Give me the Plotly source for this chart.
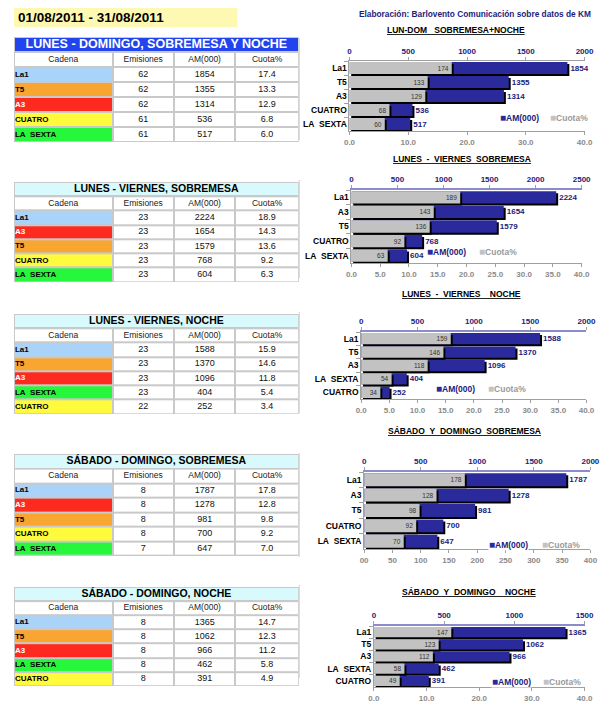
import plotly.graph_objects as go

# The page body adds an 8px margin; the figure is sized to the visible area and
# reference pixel positions are shifted by that margin.
PAGE_MARGIN = 8
W, H = 615 - PAGE_MARGIN, 710 - PAGE_MARGIN
FONT = "Liberation Sans, Arial, Helvetica, sans-serif"

# ---------------- data ----------------
date_range = "01/08/2011 - 31/08/2011"
source_text = "Elaboración: Barlovento Comunicación sobre datos de KM"
header_labels = ["Cadena", "Emisiones", "AM(000)", "Cuota%"]
legend_labels = ["AM(000)", "Cuota%"]

table_titles = ["LUNES - DOMINGO, SOBREMESA Y NOCHE", "LUNES - VIERNES, SOBREMESA",
                "LUNES - VIERNES, NOCHE", "SÁBADO - DOMINGO, SOBREMESA", "SÁBADO - DOMINGO, NOCHE"]
chart_titles = ["LUN-DOM   SOBREMESA+NOCHE", "LUNES  -  VIERNES  SOBREMESA", "LUNES  -  VIERNES    NOCHE",
                "SÁBADO  Y  DOMINGO  SOBREMESA", "SÁBADO  Y  DOMINGO    NOCHE"]

cadenas_1 = ["La1", "T5", "A3", "CUATRO", "LA  SEXTA"]
emisiones_1 = [62, 62, 62, 61, 61]
am_1 = [1854, 1355, 1314, 536, 517]
cuota_1 = [17.4, 13.3, 12.9, 6.8, 6.0]

cadenas_2 = ["La1", "A3", "T5", "CUATRO", "LA  SEXTA"]
emisiones_2 = [23, 23, 23, 23, 23]
am_2 = [2224, 1654, 1579, 768, 604]
cuota_2 = [18.9, 14.3, 13.6, 9.2, 6.3]

cadenas_3 = ["La1", "T5", "A3", "LA  SEXTA", "CUATRO"]
emisiones_3 = [23, 23, 23, 23, 22]
am_3 = [1588, 1370, 1096, 404, 252]
cuota_3 = [15.9, 14.6, 11.8, 5.4, 3.4]

cadenas_4 = ["La1", "A3", "T5", "CUATRO", "LA  SEXTA"]
emisiones_4 = [8, 8, 8, 8, 7]
am_4 = [1787, 1278, 981, 700, 647]
cuota_4 = [17.8, 12.8, 9.8, 9.2, 7.0]

cadenas_5 = ["La1", "T5", "A3", "LA  SEXTA", "CUATRO"]
emisiones_5 = [8, 8, 8, 8, 8]
am_5 = [1365, 1062, 966, 462, 391]
cuota_5 = [14.7, 12.3, 11.2, 5.8, 4.9]

am_axis_max = [2000, 2500, 2000, 2000, 1500]
cuota_axis_max = [40, 40, 40, 40, 40]
cuota_tick_step = [10, 5, 5, 5, 10]
cuota_ticktext_4 = ["00", "50", "100", "150", "200", "250", "300", "350", "400"]

blocks = [
    (cadenas_1, emisiones_1, am_1, cuota_1),
    (cadenas_2, emisiones_2, am_2, cuota_2),
    (cadenas_3, emisiones_3, am_3, cuota_3),
    (cadenas_4, emisiones_4, am_4, cuota_4),
    (cadenas_5, emisiones_5, am_5, cuota_5),
]

# ---------------- styles / geometry ----------------
PALETTE = ["#FFFFFF", "#2244EE", "#D8FAFC", "#A9D3F9", "#F9A532", "#FF2A1F", "#FFFB3C", "#26F63C", "#C9C9C9"]
CHAN_IDX = {"La1": 3, "T5": 4, "A3": 5, "CUATRO": 6, "LA  SEXTA": 7}
TITLE_IDX = [1, 2, 2, 2, 2]
FRAME_IDX = 8
CHAN_TXT = {"A3": "white"}
BLUE = "#2A2A9C"
GRAY = "#C2C2C2"
NAVY = "#1C1C7A"

n_col = len(PALETTE)
colorscale = []
for k, c in enumerate(PALETTE):
    colorscale += [[k / n_col, c], [(k + 1) / n_col, c]]

TABLE_LEFT, TABLE_RIGHT = 8, 300
col_edges = [0, 101, 164, 227, 292]        # table column edges (px from table left)
table_span = [(37, 142), (182, 282), (314, 414), (454, 556), (587, 686)]
title_font = [dict(color="white", size=12.5), dict(color="black", size=10.5), dict(color="black", size=10.5),
              dict(color="black", size=10.5), dict(color="black", size=10.5)]

# chart plot area in reference pixels: x0, x1, ytop, ybottom, title y, title center x
chart_geom = [
    (352, 593, 61, 131, 30, 461),
    (354, 590, 190, 263, 159, 467),
    (364, 595, 332, 399, 294, 467),
    (367, 599, 472, 549, 431, 470),
    (377, 593, 626, 687, 592, 475),
]
legend_pos = [((505, 557), 117), ((430, 484), 251), ((440, 493), 388), ((494, 548), 544), ((497, 549), 681)]
top_line_color = ["#A0A0A0", "#8C8CCC", "#8C8CCC", "#8C8CCC", "#8C8CCC"]
frame_lines = [(38, 140), (180, 278), (312, 413), (453, 557), (585, 678)]


def fx(p):
    return (p - PAGE_MARGIN) / W


def fy(p):
    return 1 - (p - PAGE_MARGIN) / H


def ax_key(kind, n):
    return f"{kind}axis" if n == 1 else f"{kind}axis{n}"


def ax_ref(kind, n):
    return kind if n == 1 else f"{kind}{n}"


fig = go.Figure()
shapes = []
annotations = []
layout_axes = {}

# date box + source
shapes.append(dict(type="rect", xref="paper", yref="paper", x0=fx(8), x1=fx(237), y0=fy(27), y1=fy(8),
                   fillcolor="#FEF9B2", line=dict(width=0), layer="below"))
annotations.append(dict(xref="paper", yref="paper", x=fx(10), y=fy(17.5), xanchor="left", yanchor="middle",
                        text=f"<b>{date_range}</b>", showarrow=False, font=dict(size=13.5, color="black")))
annotations.append(dict(xref="paper", yref="paper", x=fx(481), y=fy(8), xanchor="center", yanchor="top",
                        text=f"<b>{source_text}</b>", showarrow=False, font=dict(size=8.3, color=NAVY),
                        borderpad=0))

# ---------------- tables (heatmap cells + text) ----------------
for i, (cad, emi, am, cuo) in enumerate(blocks):
    xn = 11 + i
    yn = 6 + i
    xr, yr = ax_ref("x", xn), ax_ref("y", yn)
    top, bottom = table_span[i]
    layout_axes[ax_key("x", xn)] = dict(domain=[fx(TABLE_LEFT), fx(TABLE_RIGHT)], range=[0, col_edges[-1]],
                                        visible=False, anchor=yr, fixedrange=True)
    layout_axes[ax_key("y", yn)] = dict(domain=[fy(bottom), fy(top)], range=[6.5, -0.5], visible=False,
                                        anchor=xr, fixedrange=True)
    common = dict(xaxis=xr, yaxis=yr, colorscale=colorscale, zmin=-0.5, zmax=n_col - 0.5,
                  showscale=False, hoverinfo="skip")
    # frame
    fig.add_trace(go.Heatmap(x=[col_edges[0], col_edges[-1]], y=[0, 1, 2, 3, 4, 5, 6],
                             z=[[FRAME_IDX]] * 7, **common))
    # title row
    fig.add_trace(go.Heatmap(x=[col_edges[0], col_edges[-1]], y=[0], z=[[TITLE_IDX[i]]],
                             xgap=2, ygap=2, **common))
    # header + data cells
    z = [[0, 0, 0, 0]] + [[CHAN_IDX[c], 0, 0, 0] for c in cad]
    fig.add_trace(go.Heatmap(x=col_edges, y=[1, 2, 3, 4, 5, 6], z=z, xgap=2, ygap=2, **common))

    centers = [(col_edges[k] + col_edges[k + 1]) / 2 for k in range(4)]
    tmode = dict(xaxis=xr, yaxis=yr, mode="text", showlegend=False, hoverinfo="skip", cliponaxis=False)
    fig.add_trace(go.Scatter(x=[(col_edges[0] + col_edges[-1]) / 2], y=[0],
                             text=[f"<b>{table_titles[i]}</b>"], textposition="middle center",
                             textfont=title_font[i], **tmode))
    fig.add_trace(go.Scatter(x=centers, y=[1] * 4, text=header_labels, textposition="middle center",
                             textfont=dict(size=8.5, color="#222"), **tmode))
    rows = list(range(2, 2 + len(cad)))
    fig.add_trace(go.Scatter(x=[col_edges[0] + 1] * len(cad), y=rows,
                             text=[f"<b>{c.replace(' ', chr(160))}</b>" for c in cad],
                             textposition="middle right",
                             textfont=dict(size=8, color=[CHAN_TXT.get(c, "black") for c in cad]), **tmode))
    vals_x, vals_y, vals_t = [], [], []
    for r, (e, a, c) in enumerate(zip(emi, am, cuo)):
        for k, t in zip((1, 2, 3), (str(e), str(a), f"{c:.1f}")):
            vals_x.append(centers[k])
            vals_y.append(rows[r])
            vals_t.append(t)
    fig.add_trace(go.Scatter(x=vals_x, y=vals_y, text=vals_t, textposition="middle center",
                             textfont=dict(size=9, color="#111"), **tmode))

# ---------------- charts ----------------
for i, (cad, emi, am, cuo) in enumerate(blocks):
    x0, x1, yt, yb, ty, tx = chart_geom[i]
    n_top, n_bot, n_y = 2 * i + 1, 2 * i + 2, i + 1
    xt_ref, xb_ref, y_ref = ax_ref("x", n_top), ax_ref("x", n_bot), ax_ref("y", n_y)

    labels = [c.replace(" ", "\u00a0") for c in cad]
    width_px = x1 - x0
    row_px = (yb - yt) / len(cad)
    sh = 2.0  # shadow offset in px
    d_top = sh / width_px * am_axis_max[i]
    d_bot = sh / width_px * cuota_axis_max[i]
    dy = sh / row_px
    bw = 0.84

    fig.add_trace(go.Bar(y=labels, x=am, base=d_top, orientation="h", xaxis=xt_ref, yaxis=y_ref,
                         marker=dict(color="black", line=dict(width=0)), width=bw, offset=-bw / 2 + dy,
                         showlegend=False, hoverinfo="skip"))
    fig.add_trace(go.Bar(y=labels, x=am, orientation="h", xaxis=xt_ref, yaxis=y_ref, name=legend_labels[0],
                         marker=dict(color=BLUE, line=dict(width=0)), width=bw, offset=-bw / 2,
                         text=[str(v) for v in am], textposition="outside", cliponaxis=False,
                         textfont=dict(size=8, color=NAVY, weight="bold"), showlegend=False))
    fig.add_trace(go.Bar(y=labels, x=cuo, base=d_bot, orientation="h", xaxis=xb_ref, yaxis=y_ref,
                         marker=dict(color="black", line=dict(width=0)), width=bw, offset=-bw / 2 + dy,
                         showlegend=False, hoverinfo="skip"))
    fig.add_trace(go.Bar(y=labels, x=cuo, orientation="h", xaxis=xb_ref, yaxis=y_ref, name=legend_labels[1],
                         marker=dict(color=GRAY, line=dict(width=0)), width=bw, offset=-bw / 2,
                         text=[f"{round(v * 10)}" for v in cuo], textposition="inside", insidetextanchor="end",
                         constraintext="none", textfont=dict(size=6.5, color="#333"), showlegend=False))

    layout_axes[ax_key("x", n_top)] = dict(
        domain=[fx(x0), fx(x1)], anchor=y_ref, side="top", range=[0, am_axis_max[i]],
        dtick=500, showgrid=False, zeroline=False, showline=True,
        linecolor=top_line_color[i], linewidth=1 if i == 0 else 2,
        ticks="outside", ticklen=3, tickcolor="#A0A0A0",
        tickfont=dict(size=8, color=NAVY, weight="bold"), fixedrange=True)
    bot = dict(overlaying=xt_ref, anchor=y_ref, side="bottom", range=[0, cuota_axis_max[i]],
               showgrid=False, zeroline=False, showline=True, linecolor="#A0A0A0", linewidth=1,
               ticks="outside", ticklen=3, tickcolor="#A0A0A0",
               tickfont=dict(size=8, color="#8A8A8A", weight="bold"), fixedrange=True)
    if i == 3:
        bot.update(tickmode="array",
                   tickvals=[k * cuota_axis_max[i] / 8 for k in range(9)], ticktext=cuota_ticktext_4)
    else:
        bot.update(dtick=cuota_tick_step[i], tickformat=".1f")
    layout_axes[ax_key("x", n_bot)] = bot
    layout_axes[ax_key("y", n_y)] = dict(
        domain=[fy(yb), fy(yt)], anchor=xt_ref, type="category",
        categoryorder="array", categoryarray=labels, range=[len(cad) - 0.5, -0.5],
        showline=True, linecolor="#A0A0A0", linewidth=1, ticks="outside",
        tickson="boundaries", ticklen=4, tickcolor="#A0A0A0", showgrid=False,
        tickfont=dict(size=8.5, color="black", weight="bold"), fixedrange=True)

    # chart title
    annotations.append(dict(xref="paper", yref="paper", x=fx(tx), y=fy(ty), xanchor="center", yanchor="middle",
                            text=f"<b><u>{chart_titles[i].replace(' ', chr(160))}</u></b>", showarrow=False,
                            font=dict(size=8.5, color="black")))
    # legend keys
    (lx1, lx2), ly = legend_pos[i]
    annotations.append(dict(xref="paper", yref="paper", x=fx(lx1), y=fy(ly), xanchor="left", yanchor="middle",
                            text=f"<span style='color:{BLUE};font-size:10px'>■</span><b>{legend_labels[0]}</b>",
                            showarrow=False, font=dict(size=8.5, color=NAVY), bgcolor="white", borderpad=0))
    annotations.append(dict(xref="paper", yref="paper", x=fx(lx2), y=fy(ly), xanchor="left", yanchor="middle",
                            text=f"<span style='color:{GRAY};font-size:10px'>■</span><b>{legend_labels[1]}</b>",
                            showarrow=False, font=dict(size=8.5, color="#9A9A9A"), borderpad=0))
    f0, f1 = frame_lines[i]
    shapes.append(dict(type="line", xref="paper", yref="paper", x0=fx(300.5), x1=fx(300.5), y0=fy(f1), y1=fy(f0),
                       line=dict(color="#D0D0D0", width=1)))

fig.update_layout(
    width=W, height=H, autosize=False, margin=dict(l=0, r=0, t=0, b=0),
    paper_bgcolor="white", plot_bgcolor="rgba(0,0,0,0)", barmode="overlay", showlegend=False,
    font=dict(family=FONT), shapes=shapes, annotations=annotations, **layout_axes,
)
fig.write_html("out.html")
